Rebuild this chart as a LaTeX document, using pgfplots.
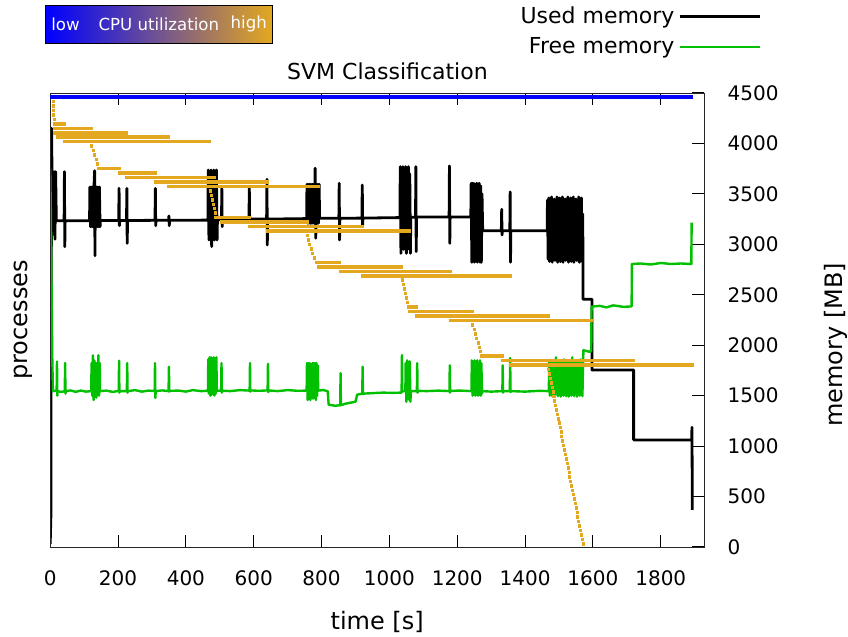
\documentclass[border=0pt]{standalone}
\usepackage{fontspec}
\setmainfont{DejaVu Sans}
\usepackage{pgfplots}
\pgfplotsset{compat=1.18}
\definecolor{cpuorange}{RGB}{228,168,32}
\definecolor{memgreen}{RGB}{0,192,0}
\definecolor{cpublue}{RGB}{0,0,255}
\begin{document}
\begin{tikzpicture}
\useasboundingbox (-25.1pt,-45pt) rectangle (398.9pt,273.5pt);
\pgfplotsset{
  common/.style={
    width=327pt, height=227pt, scale only axis,
    xmin=0, xmax=1928,
    at={(0pt,0pt)}, anchor=south west,
    /pgf/number format/assume math mode=true,
    /pgf/number format/1000 sep={},
    tick style={line width=0.5pt, black},
    major tick length=6pt,
    tick align=inside,
    axis line style={line width=0.5pt, black!85},
    ticklabel style={font=\fontsize{10}{12}\selectfont},
  }
}
% ---------------- memory axis (right) ----------------
\begin{axis}[common,
  hide x axis,
  axis y line*=right,
  ymin=0, ymax=4500,
  ytick={0,500,...,4500},
  yticklabel style={anchor=west, xshift=8.2pt},
  ylabel={memory [MB]},
  ylabel style={at={(axis description cs:1.2015,0.445)}, anchor=center, font=\fontsize{12}{14}\selectfont},
  legend style={draw=none, fill=none, font=\fontsize{11}{13}\selectfont,
    at={(axis description cs:1.088,1.2)}, anchor=north east,
    row sep=1.5pt, inner sep=0pt},
  legend plot pos=right,
  legend cell align=right,
  legend image code/.code={\draw[#1] (0pt,0pt) -- (40pt,0pt);},
]
\addplot[black, line width=1.4pt, line join=round] table {
t mb
0 30
2 300
4 4150
6 3500
8 3720
10 3100
12 3720
14 3050
16 3720
18 3240
20 3234
41 3234
42 3720
43 2977
44 3234
116 3234
117 3568
119 3175
121 3568
123 3175
125 3568
127 3175
129 3568
131 3730
132 2887
133 3568
135 3175
137 3568
139 3175
141 3568
143 3175
145 3568
147 3175
148 3236
202 3236
203 3555
204 3185
205 3236
225 3236
226 3555
227 3010
228 3236
309 3238
310 3555
311 3185
312 3238
349 3238
350 3281
351 3185
352 3238
465 3240
466 3737
468 3043
470 3700
472 3100
474 3737
476 2977
478 3700
480 3080
482 3737
484 3043
486 3700
488 3100
490 3737
492 3043
493 3245
505 3245
506 3555
507 3175
508 3245
586 3248
587 3555
588 3241
589 3250
638 3250
639 3645
640 2993
641 3250
756 3255
757 3595
759 3209
761 3595
763 3209
765 3595
767 3209
769 3595
771 3209
773 3595
775 3209
777 3595
779 3209
781 3754
783 3060
785 3595
787 3209
789 3595
791 3209
793 3595
794 3258
851 3258
852 3605
853 3043
854 3258
919 3260
920 3588
921 3191
922 3260
1031 3265
1032 3770
1034 2911
1036 3700
1038 3000
1040 3770
1042 2950
1044 3600
1046 3100
1048 3770
1050 2911
1052 3650
1054 3050
1056 3770
1058 2950
1060 3700
1062 2911
1063 3268
1077 3268
1078 3770
1079 2928
1080 3270
1176 3270
1177 3777
1178 3010
1179 3270
1240 3272
1241 3605
1243 2822
1245 3605
1247 2900
1249 3605
1251 2822
1253 3550
1255 2850
1257 3605
1259 2822
1261 3600
1263 2900
1265 3605
1267 2822
1269 3580
1271 2822
1273 3500
1275 3135
1330 3135
1331 3347
1332 3092
1333 3135
1355 3135
1356 3519
1357 2822
1358 3135
1465 3135
1466 3440
1468 2850
1470 3460
1472 2830
1474 3420
1476 2870
1478 3470
1480 2822
1482 3430
1484 2860
1486 3450
1488 2840
1490 3410
1492 2880
1494 3470
1496 2822
1498 3440
1500 2850
1502 3460
1504 2830
1506 3420
1508 2870
1510 3470
1512 2822
1514 3430
1516 2860
1518 3450
1520 2840
1522 3410
1524 2880
1526 3470
1528 2822
1530 3440
1532 2850
1534 3460
1536 2830
1538 3420
1540 2870
1542 3470
1544 2822
1546 3430
1548 2860
1550 3450
1552 2840
1554 3410
1556 2880
1558 3470
1560 2822
1562 3440
1564 2850
1566 3460
1568 2830
1570 3300
1571 2455
1597 2455
1597 1754
1720 1754
1720 1061
1891 1061
1892 1187
1893 367
};
\addlegendentry{Used memory}
\addplot[memgreen, line width=1.2pt, line join=round] table {
t mb
0 3750
2 3300
4 2600
6 1900
8 1545
19 1548
20 1837
21 1500
22 1545
30 1538
43 1542
44 1823
45 1520
46 1545
60 1552
75 1538
90 1550
105 1540
121 1545
122 1823
124 1500
126 1900
128 1457
130 1850
132 1520
134 1823
136 1480
138 1823
140 1520
142 1900
144 1500
146 1823
147 1545
165 1550
185 1537
202 1548
203 1847
204 1530
205 1545
226 1545
227 1823
228 1530
229 1545
250 1555
270 1540
290 1550
308 1545
309 1823
310 1477
311 1545
330 1552
349 1545
350 1787
351 1540
352 1548
380 1550
400 1540
420 1555
445 1545
465 1548
466 1860
468 1520
470 1880
472 1500
474 1880
476 1510
478 1860
480 1520
482 1880
484 1500
486 1870
488 1520
490 1880
491 1548
504 1550
505 1823
506 1530
507 1550
530 1545
560 1555
588 1550
589 1823
590 1540
591 1552
615 1548
641 1552
642 1815
643 1535
644 1552
670 1545
700 1555
730 1548
756 1550
757 1823
759 1457
761 1823
763 1500
765 1823
767 1457
769 1800
771 1520
773 1823
775 1470
777 1823
779 1500
781 1823
783 1457
785 1823
787 1500
789 1800
790 1550
805 1555
818 1545
821 1410
840 1400
855 1405
856 1724
857 1405
870 1420
885 1430
900 1440
905 1510
920 1520
921 1787
922 1515
923 1520
950 1525
980 1530
1010 1528
1036 1530
1037 1903
1038 1540
1040 1545
1047 1545
1048 1823
1050 1440
1052 1850
1054 1500
1056 1823
1058 1460
1060 1840
1062 1440
1063 1545
1081 1545
1082 1823
1083 1530
1084 1548
1110 1545
1145 1550
1177 1545
1178 1800
1179 1530
1180 1548
1210 1550
1242 1545
1243 1850
1245 1500
1247 1823
1249 1510
1251 1850
1253 1500
1255 1823
1257 1520
1259 1850
1261 1500
1263 1823
1265 1510
1267 1850
1269 1500
1271 1823
1273 1520
1274 1545
1300 1540
1333 1545
1334 1800
1335 1530
1336 1545
1355 1545
1356 1873
1357 1535
1358 1545
1400 1540
1440 1548
1470 1545
1471 1835
1473 1500
1475 1840
1477 1520
1479 1830
1481 1490
1483 1850
1485 1510
1487 1835
1489 1500
1491 1880
1493 1530
1495 1835
1497 1495
1499 1840
1501 1520
1503 1830
1505 1490
1507 1850
1509 1510
1511 1835
1513 1500
1515 1860
1517 1530
1519 1835
1521 1495
1523 1840
1525 1520
1527 1830
1529 1490
1531 1850
1533 1510
1535 1835
1537 1500
1539 1880
1541 1530
1543 1835
1545 1495
1547 1840
1549 1520
1551 1830
1553 1490
1555 1850
1557 1510
1559 1835
1561 1500
1563 1860
1565 1530
1567 1835
1569 1495
1571 1840
1572 1950
1590 1935
1595 1945
1596 2382
1620 2390
1640 2375
1660 2395
1690 2380
1714 2385
1715 2805
1740 2810
1770 2800
1800 2815
1830 2805
1860 2810
1890 2805
1891 3215
};
\addlegendentry{Free memory}
\end{axis}
% ---------------- processes axis (left) ----------------
\begin{axis}[common,
  ymin=-0.9, ymax=100.7, y dir=reverse,
  ytick=\empty,
  xtick={0,200,...,1800},
  xticklabel style={anchor=north, yshift=-8.5pt},
  xlabel={time [s]},
  xlabel style={at={(axis description cs:0.5,-0.165)}, anchor=center, font=\fontsize{12}{14}\selectfont},
  ylabel={processes},
  ylabel style={at={(axis description cs:-0.0416,0.5)}, anchor=center, font=\fontsize{12}{14}\selectfont},
  title={SVM Classification},
  title style={at={(axis description cs:0.5157,1.021)}, anchor=center, font=\fontsize{11}{13}\selectfont},
  unbounded coords=jump,
]
\addplot[cpublue, line width=2pt] coordinates {(-4,0) (1895,0)};
\addplot[cpuorange, line width=1.75pt, line cap=butt] coordinates {
(4,1) (13,1) (nan,nan)
(4,2) (13,2) (nan,nan)
(4,3) (13,3) (nan,nan)
(5,4) (14,4) (nan,nan)
(7,5) (16,5) (nan,nan)
(7,6) (47,6) (nan,nan)
(7,7) (127,7) (nan,nan)
(7,8) (230,8) (nan,nan)
(16,9) (354,9) (nan,nan)
(37,10) (474,10) (nan,nan)
(118,11) (127,11) (nan,nan)
(123,12) (132,12) (nan,nan)
(127,13) (136,13) (nan,nan)
(131,14) (140,14) (nan,nan)
(135,15) (144,15) (nan,nan)
(139,16) (209,16) (nan,nan)
(200,17) (315,17) (nan,nan)
(221,18) (489,18) (nan,nan)
(306,19) (645,19) (nan,nan)
(345,20) (796,20) (nan,nan)
(467,21) (476,21) (nan,nan)
(470,22) (479,22) (nan,nan)
(473,23) (482,23) (nan,nan)
(476,24) (485,24) (nan,nan)
(479,25) (488,25) (nan,nan)
(482,26) (491,26) (nan,nan)
(483,27) (592,27) (nan,nan)
(501,28) (764,28) (nan,nan)
(584,29) (924,29) (nan,nan)
(636,30) (1063,30) (nan,nan)
(753,31) (762,31) (nan,nan)
(757,32) (766,32) (nan,nan)
(761,33) (770,33) (nan,nan)
(765,34) (774,34) (nan,nan)
(769,35) (778,35) (nan,nan)
(774,36) (783,36) (nan,nan)
(781,37) (858,37) (nan,nan)
(786,38) (1041,38) (nan,nan)
(852,39) (1184,39) (nan,nan)
(917,40) (1361,40) (nan,nan)
(1033,41) (1042,41) (nan,nan)
(1036,42) (1045,42) (nan,nan)
(1040,43) (1049,43) (nan,nan)
(1043,44) (1052,44) (nan,nan)
(1046,45) (1055,45) (nan,nan)
(1050,46) (1059,46) (nan,nan)
(1053,47) (1083,47) (nan,nan)
(1056,48) (1249,48) (nan,nan)
(1075,49) (1472,49) (nan,nan)
(1176,50) (1600,50) (nan,nan)
(1241,51) (1250,51) (nan,nan)
(1245,52) (1254,52) (nan,nan)
(1249,53) (1258,53) (nan,nan)
(1253,54) (1262,54) (nan,nan)
(1257,55) (1266,55) (nan,nan)
(1261,56) (1270,56) (nan,nan)
(1264,57) (1273,57) (nan,nan)
(1268,58) (1337,58) (nan,nan)
(1329,59) (1725,59) (nan,nan)
(1353,60) (1897,60) (nan,nan)
(1465.0,61) (1474.0,61) (nan,nan)
(1467.6,62) (1476.6,62) (nan,nan)
(1470.2,63) (1479.2,63) (nan,nan)
(1472.8,64) (1481.8,64) (nan,nan)
(1475.5,65) (1484.5,65) (nan,nan)
(1478.1,66) (1487.1,66) (nan,nan)
(1480.7,67) (1489.7,67) (nan,nan)
(1483.3,68) (1492.3,68) (nan,nan)
(1485.9,69) (1494.9,69) (nan,nan)
(1488.5,70) (1497.5,70) (nan,nan)
(1491.2,71) (1500.2,71) (nan,nan)
(1493.8,72) (1502.8,72) (nan,nan)
(1496.4,73) (1505.4,73) (nan,nan)
(1499.0,74) (1508.0,74) (nan,nan)
(1501.6,75) (1510.6,75) (nan,nan)
(1504.2,76) (1513.2,76) (nan,nan)
(1506.8,77) (1515.8,77) (nan,nan)
(1509.5,78) (1518.5,78) (nan,nan)
(1512.1,79) (1521.1,79) (nan,nan)
(1514.7,80) (1523.7,80) (nan,nan)
(1517.3,81) (1526.3,81) (nan,nan)
(1519.9,82) (1528.9,82) (nan,nan)
(1522.5,83) (1531.5,83) (nan,nan)
(1525.2,84) (1534.2,84) (nan,nan)
(1527.8,85) (1536.8,85) (nan,nan)
(1530.4,86) (1539.4,86) (nan,nan)
(1533.0,87) (1542.0,87) (nan,nan)
(1535.6,88) (1544.6,88) (nan,nan)
(1538.2,89) (1547.2,89) (nan,nan)
(1540.8,90) (1549.8,90) (nan,nan)
(1543.5,91) (1552.5,91) (nan,nan)
(1546.1,92) (1555.1,92) (nan,nan)
(1548.7,93) (1557.7,93) (nan,nan)
(1551.3,94) (1560.3,94) (nan,nan)
(1553.9,95) (1562.9,95) (nan,nan)
(1556.5,96) (1565.5,96) (nan,nan)
(1559.2,97) (1568.2,97) (nan,nan)
(1561.8,98) (1570.8,98) (nan,nan)
(1564.4,99) (1573.4,99) (nan,nan)
(1567.0,100) (1576.0,100)
};
\end{axis}
% ---------------- CPU utilization colour key ----------------
\shadedraw[left color=cpublue, right color=cpuorange, draw=black, line width=0.5pt]
  (-2.1pt,251.9pt) rectangle (111.2pt,270.5pt);
\node[white, font=\fontsize{8.3}{10}\selectfont] at (7.65pt,261.3pt) {low};
\node[white, font=\fontsize{8.3}{10}\selectfont] at (54.3pt,261.3pt) {CPU utilization};
\node[white, font=\fontsize{8.3}{10}\selectfont] at (99.3pt,261.3pt) {high};
\end{tikzpicture}
\end{document}
